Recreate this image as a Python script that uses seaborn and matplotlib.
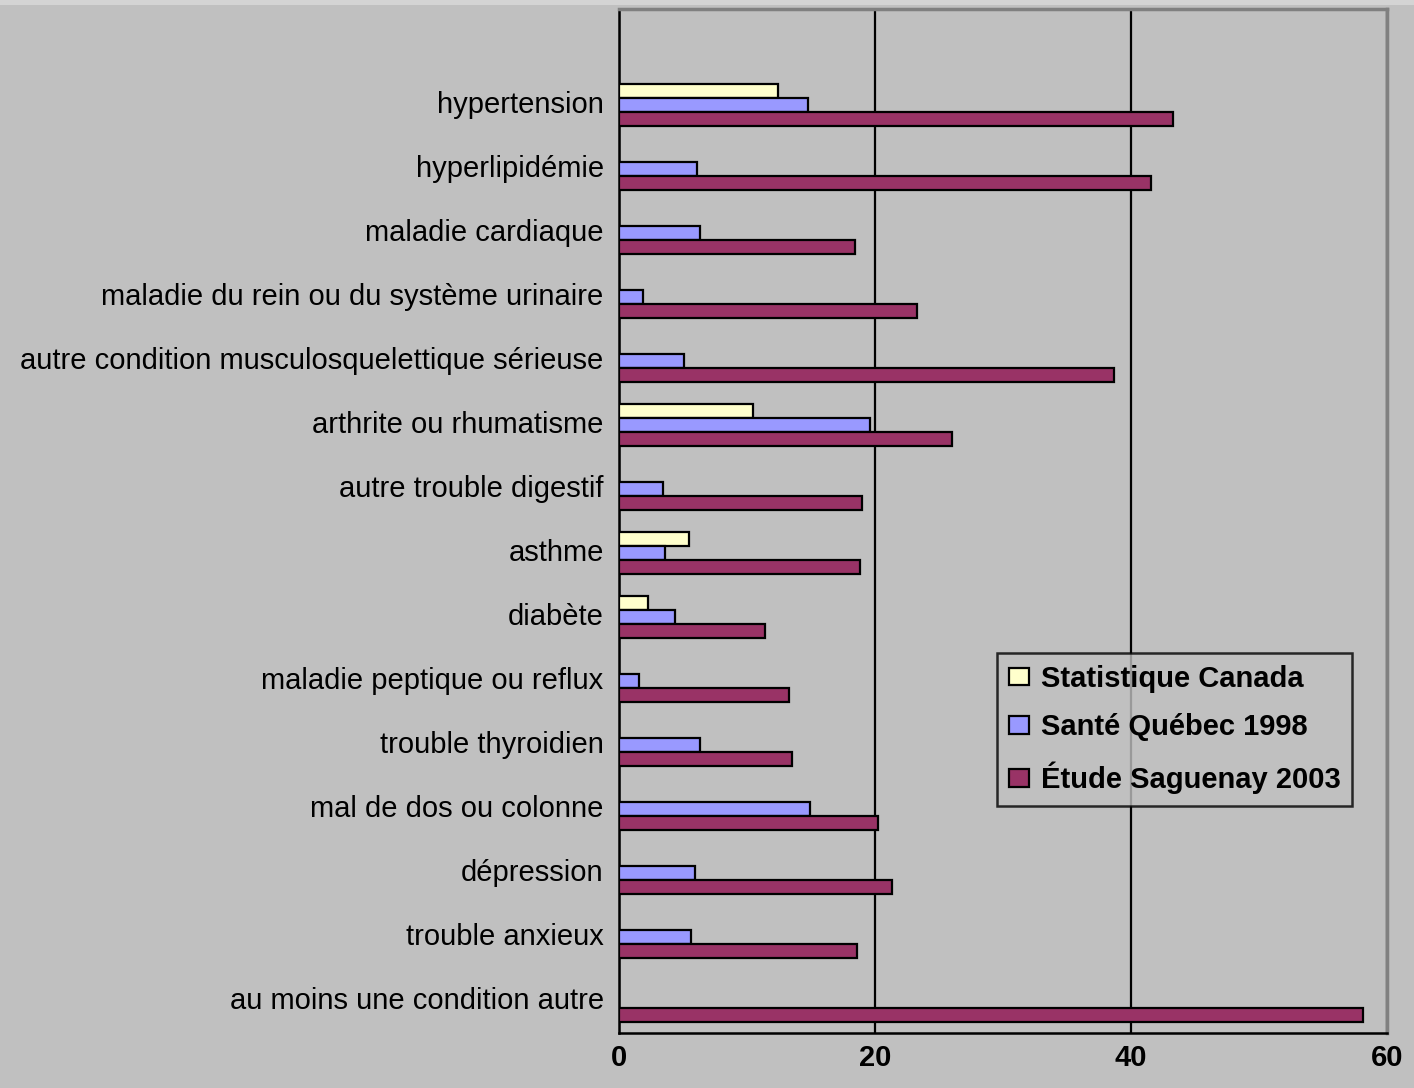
import matplotlib
matplotlib.use("Agg")
import matplotlib.pyplot as plt
import matplotlib.transforms as mtransforms
from matplotlib.patches import Rectangle
import seaborn as sns
import pandas as pd
import numpy as np

categories = [
    "hypertension",
    "hyperlipidémie",
    "maladie cardiaque",
    "maladie du rein ou du système urinaire",
    "autre condition musculosquelettique sérieuse",
    "arthrite ou rhumatisme",
    "autre trouble digestif",
    "asthme",
    "diabète",
    "maladie peptique ou reflux",
    "trouble thyroidien",
    "mal de dos ou colonne",
    "dépression",
    "trouble anxieux",
    "au moins une condition autre",
]
series = ["Statistique Canada", "Santé Québec 1998", "Étude Saguenay 2003"]
stat_canada = [12.4, np.nan, np.nan, np.nan, np.nan, 10.5, np.nan, 5.5, 2.3,
               np.nan, np.nan, np.nan, np.nan, np.nan, np.nan]
sante_quebec = [14.8, 6.1, 6.3, 1.9, 5.1, 19.6, 3.4, 3.6, 4.4, 1.6, 6.3, 14.9,
                5.9, 5.6, np.nan]
saguenay = [43.3, 41.6, 18.4, 23.3, 38.7, 26.0, 19.0, 18.8, 11.4, 13.3, 13.5,
            20.2, 21.3, 18.6, 58.1]
xticks = [0, 20, 40, 60]
colors = ["#FFFFCC", "#9999FF", "#993366"]

rows = []
for name, vals in zip(series, [stat_canada, sante_quebec, saguenay]):
    for c, v in zip(categories, vals):
        rows.append({"cat": c, "val": v, "series": name})
df = pd.DataFrame(rows)

sns.set_style("white")
plt.rcParams["font.family"] = ["Liberation Sans", "DejaVu Sans"]
plt.rcParams["text.color"] = "black"
plt.rcParams["xtick.color"] = "black"
plt.rcParams["ytick.color"] = "black"
plt.rcParams["axes.labelcolor"] = "black"

bg = "#C0C0C0"
fig = plt.figure(figsize=(14.14, 10.88), dpi=100, facecolor=bg)
fig.patches.append(Rectangle((0, 1 - 5 / 1088), 1, 5 / 1088,
                             transform=fig.transFigure, facecolor="#D4D4D4",
                             edgecolor="none", zorder=0))
ax = fig.add_axes([619 / 1414, 1 - 1033 / 1088, 768 / 1414, 1024 / 1088])
ax.set_facecolor(bg)

sns.barplot(data=df, y="cat", x="val", hue="series", order=categories,
            hue_order=series, palette=colors, orient="h", width=0.66,
            edgecolor="black", linewidth=1.6, errorbar=None, saturation=1,
            ax=ax, zorder=3)

ax.set_xlim(0, 60)
ax.set_ylim(len(categories) - 0.5, -1.5)
ax.set_xticks(xticks)
ax.set_xticklabels([str(t) for t in xticks], fontsize=21, fontweight="bold",
                   color="black")
ax.set_yticks(range(len(categories)))
ax.set_yticklabels(categories, fontsize=21, color="black")
ax.set_yticks(np.arange(-1.5, len(categories), 1.0), minor=True)
ax.tick_params(axis="y", which="major", length=0, pad=11)
ax.tick_params(axis="y", which="minor", length=8, width=1.8, color="black", direction="out")
ax.tick_params(axis="x", which="major", length=7, width=1.8, color="black",
               direction="out", pad=1)
ax.set_xlabel("")
ax.set_ylabel("")

shift = mtransforms.ScaledTranslation(0, 3 / 100, fig.dpi_scale_trans)
for lab in ax.get_yticklabels():
    lab.set_transform(lab.get_transform() + shift)

ax.grid(axis="x", color="black", linewidth=1.6)
ax.set_axisbelow(True)

for s in ["left", "bottom"]:
    ax.spines[s].set_color("black")
    ax.spines[s].set_linewidth(1.8)
for s in ["top", "right"]:
    ax.spines[s].set_color("#808080")
    ax.spines[s].set_linewidth(2.5)
    ax.spines[s].set_visible(True)

handles, labels = ax.get_legend_handles_labels()
leg = ax.legend(handles, labels, loc="upper left", bbox_to_anchor=(0.492, 0.371),
                frameon=True, fancybox=False, facecolor=bg, edgecolor="black",
                prop={"size": 21, "weight": "bold"}, handlelength=0.7,
                handleheight=0.55, handletextpad=0.4, labelspacing=0.7,
                borderpad=0.4, borderaxespad=0)
leg.get_frame().set_linewidth(1.8)
leg.set_zorder(5)
for t in leg.get_texts():
    t.set_color("black")

fig.savefig("out.png", dpi=100, facecolor=bg)
